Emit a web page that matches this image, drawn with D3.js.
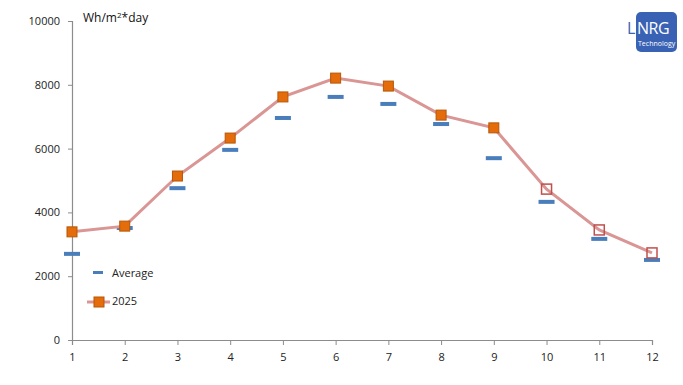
<!DOCTYPE html>
<html>
<head>
<meta charset="utf-8">
<script src="https://cdn.jsdelivr.net/npm/d3@7"></script>
<style>
  body { margin: 0; background: #fff; }
  text { font-family: "Open Sans", sans-serif; }
</style>
</head>
<body>
<svg id="chart" width="683" height="385"></svg>
<script>
// values
var months = [1, 2, 3, 4, 5, 6, 7, 8, 9, 10, 11, 12];
var average = [2700, 3510, 4760, 5960, 6960, 7620, 7400, 6770, 5700, 4330, 3170, 2510];
var year2025 = [3390, 3570, 5140, 6330, 7620, 8210, 7960, 7050, 6650, 4730, 3450, 2730];
var forecast = [false, false, false, false, false, false, false, false, false, true, true, true];
var yTicks = [0, 2000, 4000, 6000, 8000, 10000];

var svg = d3.select('#chart');
var x = d3.scaleLinear().domain([1, 12]).range([72, 652]);
var y = d3.scaleLinear().domain([0, 10000]).range([340, 21]);

// axes
var yAxis = svg.append('g').attr('transform', 'translate(72,0)')
  .call(d3.axisLeft(y).tickValues(yTicks).tickSize(4).tickPadding(8).tickFormat(d3.format('d')));
var xAxis = svg.append('g').attr('transform', 'translate(0,340)')
  .call(d3.axisBottom(x).tickValues(months).tickSize(5).tickPadding(8));
[yAxis, xAxis].forEach(function(a) {
  a.select('.domain').attr('stroke', '#8c8c8c').attr('stroke-width', 1.2);
  a.selectAll('.tick line').attr('stroke', '#8c8c8c');
  a.selectAll('.tick text').attr('fill', '#222').style('font-size', '11px');
});

// unit label
svg.append('text').attr('x', 83).attr('y', 22).attr('fill', '#111').style('font-size', '12px')
  .html('Wh/m<tspan dy="-4" font-size="8">2</tspan><tspan dy="4">*day</tspan>');

// average dashes
svg.selectAll('rect.avg').data(average).enter().append('rect').attr('class', 'avg')
  .attr('x', function(d, i) { return x(months[i]) - 8; })
  .attr('y', function(d) { return y(d) - 2; })
  .attr('width', 16).attr('height', 4).attr('fill', '#4a7ebb');

// 2025 line
var line = d3.line().x(function(d, i) { return x(months[i]); }).y(function(d) { return y(d); });
svg.append('path').datum(year2025).attr('d', line)
  .attr('fill', 'none').attr('stroke', '#d99694').attr('stroke-width', 3);

svg.selectAll('rect.pt').data(year2025).enter().append('rect').attr('class', 'pt')
  .attr('x', function(d, i) { return x(months[i]) - 5; })
  .attr('y', function(d) { return y(d) - 5; })
  .attr('width', 10).attr('height', 10)
  .attr('fill', function(d, i) { return forecast[i] ? 'none' : '#e46c0a'; })
  .attr('stroke', function(d, i) { return forecast[i] ? '#c0504d' : '#b65708'; })
  .attr('stroke-width', function(d, i) { return forecast[i] ? 1.5 : 1; });

// legend
var lg = svg.append('g');
lg.append('rect').attr('x', 93).attr('y', 271).attr('width', 10).attr('height', 3).attr('fill', '#4a7ebb');
lg.append('text').attr('x', 112).attr('y', 277).attr('fill', '#222').style('font-size', '11px').text('Average');
lg.append('line').attr('x1', 87).attr('x2', 110).attr('y1', 302).attr('y2', 302)
  .attr('stroke', '#d99694').attr('stroke-width', 3);
lg.append('rect').attr('x', 94).attr('y', 297).attr('width', 10).attr('height', 10)
  .attr('fill', '#e46c0a').attr('stroke', '#b65708');
lg.append('text').attr('x', 112).attr('y', 305).attr('fill', '#222').style('font-size', '11px').text('2025');

// logo
var logo = svg.append('g');
logo.append('rect').attr('x', 636).attr('y', 12).attr('width', 41).attr('height', 40).attr('rx', 5).attr('fill', '#3a62b4');
logo.append('text').attr('x', 627).attr('y', 34).attr('fill', '#3a62b4')
  .style('font-size', '16px').text('L');
logo.append('text').attr('x', 637).attr('y', 34).attr('fill', '#fff')
  .style('font-size', '16px').style('letter-spacing', '-0.5px').text('NRG');
logo.append('text').attr('x', 638).attr('y', 46).attr('fill', '#fff').style('font-size', '7px').text('Technology');
</script>
</body>
</html>
